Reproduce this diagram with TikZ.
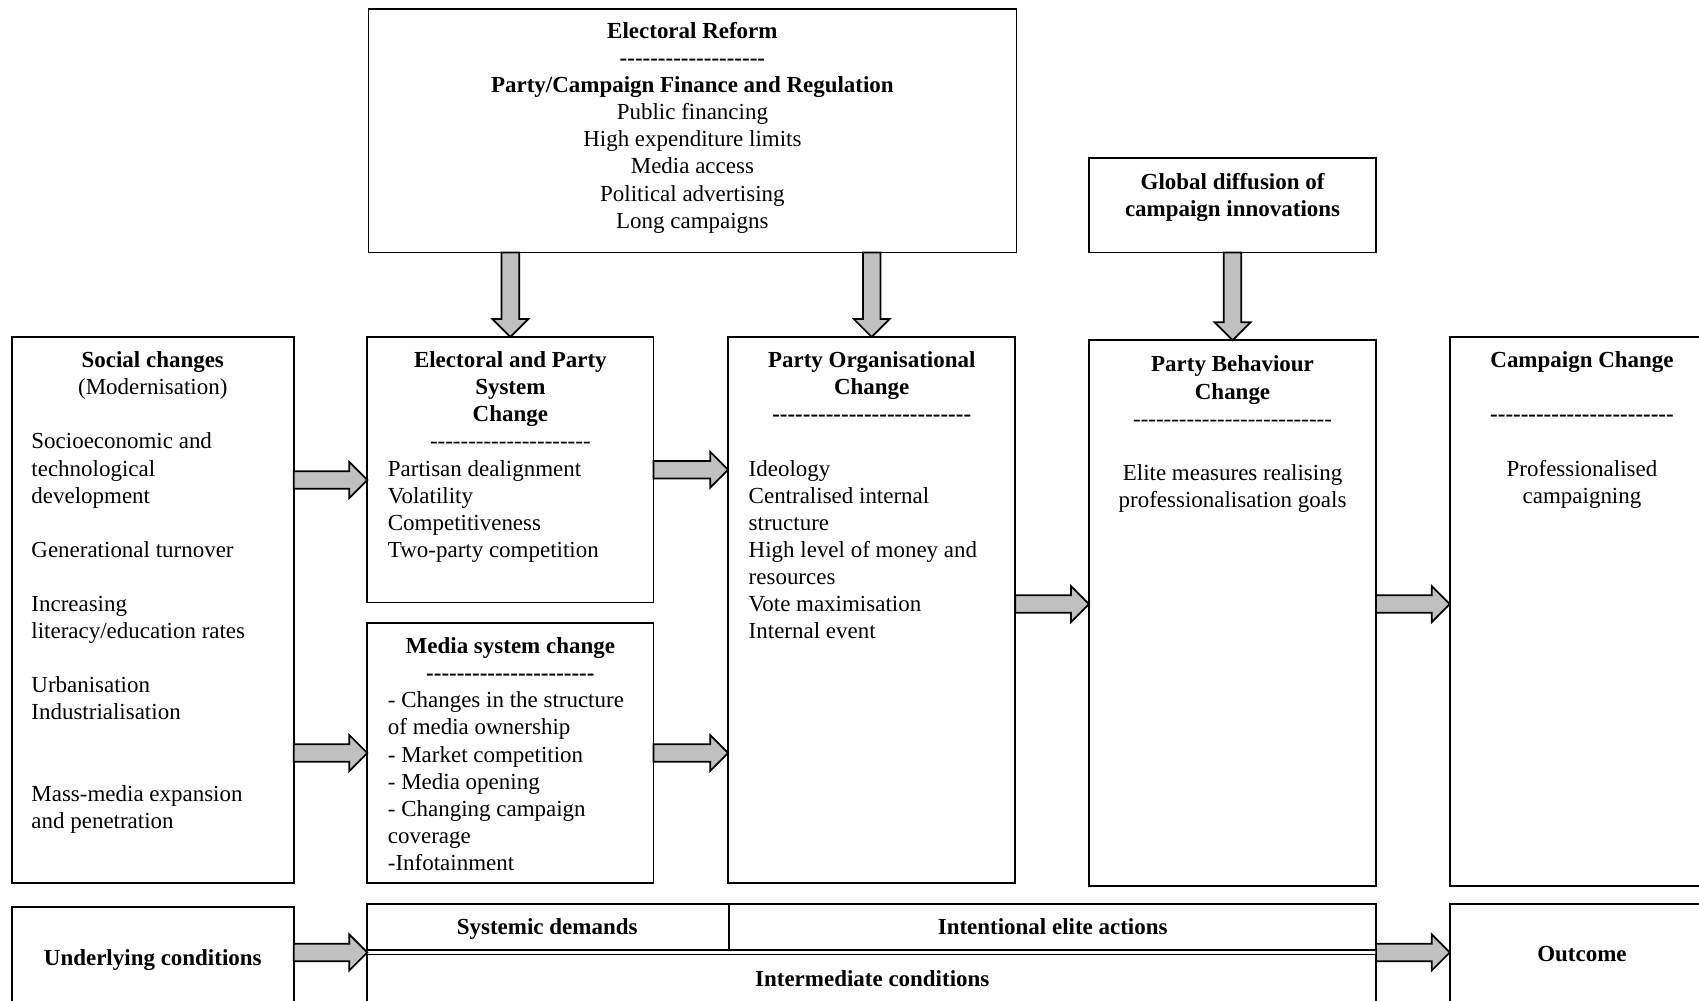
\documentclass[tikz,border=0pt]{standalone}
\usepackage{fontspec}
\setmainfont{Liberation Serif}
\usetikzlibrary{calc}

\newcommand\dashline[1]{\foreach \k in {1,...,#1}{-}}
\newcommand\arrowshaft{4.05pt}
\newcommand\arrowhead{8.3pt}
\newcommand\blockarrow[2]{%
  \draw[blockarrow] ($(#1)!\arrowshaft!90:(#2)$)
    -- ($($(#2)!\arrowhead!(#1)$)!\arrowshaft!90:(#2)$)
    -- ($($(#2)!\arrowhead!(#1)$)!\arrowhead!90:(#2)$)
    -- (#2)
    -- ($($(#2)!\arrowhead!(#1)$)!\arrowhead!-90:(#2)$)
    -- ($($(#2)!\arrowhead!(#1)$)!\arrowshaft!-90:(#2)$)
    -- ($(#1)!\arrowshaft!-90:(#2)$) -- cycle;}

\begin{document}
\begin{tikzpicture}[x=1pt,y=1pt,
  font=\fontsize{10.6}{12.5}\selectfont,
  box/.style={draw=drawColor, line width=0.8pt, inner sep=0pt, outer sep=0pt, anchor=north west},
  head/.style={text=drawColor, align=center, anchor=north, inner sep=0pt, outer sep=0pt},
  body/.style={text=drawColor, align=left, anchor=north west, inner sep=0pt, outer sep=0pt},
  label/.style={text=drawColor, font=\fontsize{10.6}{12.5}\selectfont\bfseries, anchor=base, inner sep=0pt, outer sep=0pt},
  blockarrow/.style={draw=drawColor, fill=fillColor, line width=0.8pt, line join=miter}]
\definecolor{drawColor}{RGB}{0,0,0}
\definecolor{fillColor}{RGB}{192,192,192}
\path[use as bounding box] (0,0) rectangle (784,461.5);
\clip (0,0) rectangle (784,461.5);

% boxes
\node[box, minimum width=299pt, minimum height=112.5pt] (erf) at (170,457.5) {};
\node[box, minimum width=132.5pt, minimum height=43.5pt] (glob) at (502.5,388.5) {};
\node[box, minimum width=130pt, minimum height=252pt] (soc) at (5.5,306) {};
\node[box, minimum width=132pt, minimum height=122.5pt] (ep) at (169.5,306) {};
\node[box, minimum width=132pt, minimum height=120pt] (med) at (169.5,174) {};
\node[box, minimum width=132.5pt, minimum height=252pt] (po) at (336,306) {};
\node[box, minimum width=132.5pt, minimum height=252pt] (pb) at (502.5,304.5) {};
\node[box, minimum width=122pt, minimum height=253.5pt] (cc) at (669,306) {};
\node[box, minimum width=130pt, minimum height=60pt] (und) at (5.5,43) {};
\node[box, minimum width=167pt, minimum height=21.5pt] (sys) at (169.5,44.5) {};
\node[box, minimum width=298.5pt, minimum height=21.5pt] (int) at (336.5,44.5) {};
\node[box, minimum width=465.5pt, minimum height=40pt] (imc) at (169.5,21) {};
\node[box, minimum width=122pt, minimum height=64pt] (out) at (669,44.5) {};

% texts
\node[head] (erftxt) at (319.5,451.2) {\textbf{Electoral Reform}\\ \textbf{\dashline{19}}\\
  \textbf{Party/Campaign Finance and Regulation}\\ Public financing\\ High expenditure limits\\
  Media access\\ Political advertising\\ Long campaigns};
\node[head, font=\fontsize{10.6}{12.5}\selectfont\bfseries] (globtxt) at (568.75,381.7) {Global diffusion of\\ campaign innovations};
\node[head] (sochead) at (70.5,299.2) {\textbf{Social changes}\\ (Modernisation)};
\node[body] (socbody) at (14.5,261.7) {Socioeconomic and\\ technological\\ development\\[12.5pt]
  Generational turnover\\[12.5pt] Increasing\\ literacy/education rates\\[12.5pt]
  Urbanisation\\ Industrialisation\\[25pt] Mass-media expansion\\ and penetration};
\node[head] (ephead) at (235.5,299.2) {\textbf{Electoral and Party}\\ \textbf{System}\\ \textbf{Change}\\ \dashline{21}};
\node[body] (epbody) at (179,249.2) {Partisan dealignment\\ Volatility\\ Competitiveness\\ Two-party competition};
\node[head] (medhead) at (235.5,167.2) {\textbf{Media system change}\\ \textbf{\dashline{22}}};
\node[body] (medbody) at (179,142.2) {- Changes in the structure\\ of media ownership\\ - Market competition\\
  - Media opening\\ - Changing campaign\\ coverage\\ -Infotainment};
\node[head] (pohead) at (402.25,299.2) {\textbf{Party Organisational}\\ \textbf{Change}\\ \textbf{\dashline{26}}};
\node[body] (pobody) at (345.5,249.2) {Ideology\\ Centralised internal\\ structure\\ High level of money and\\
  resources\\ Vote maximisation\\ Internal event};
\node[head] (pbtxt) at (568.75,297.2) {\textbf{Party Behaviour}\\ \textbf{Change}\\ \dashline{26}\\[12.5pt]
  Elite measures realising\\ professionalisation goals};
\node[head] (cctxt) at (730,299.2) {\textbf{Campaign Change}\\[12.5pt] \textbf{\dashline{24}}\\[12.5pt]
  Professionalised\\ campaigning};
\node[label] (undtxt) at (70.5,16) {Underlying conditions};
\node[label] (systxt) at (252.5,30.5) {Systemic demands};
\node[label] (inttxt) at (485.75,30.5) {Intentional elite actions};
\node[label] (imctxt) at (402.5,6.5) {Intermediate conditions};
\node[label] (outtxt) at (730,18) {Outcome};

% arrows
\blockarrow{erf.south -| ep.north}{ep.north}
\blockarrow{erf.south -| po.north}{po.north}
\blockarrow{glob.south}{pb.north}
\coordinate (socep) at ([yshift=-4.75pt]ep.west);
\blockarrow{soc.east |- socep}{socep}
\blockarrow{soc.east |- med.west}{med.west}
\blockarrow{ep.east}{ep.east -| po.west}
\blockarrow{med.east}{med.east -| po.west}
\coordinate (pobp) at ([yshift=2.75pt]po.east);
\blockarrow{pobp}{pobp -| pb.west}
\blockarrow{pobp -| pb.east}{pobp -| cc.west}
\coordinate (undin) at ($(sys.south west)!0.5!(imc.north west)$);
\blockarrow{und.east |- undin}{undin}
\coordinate (inout) at ($(int.south east)!0.5!(imc.north east)$);
\blockarrow{inout}{inout -| out.west}
\end{tikzpicture}
\end{document}
